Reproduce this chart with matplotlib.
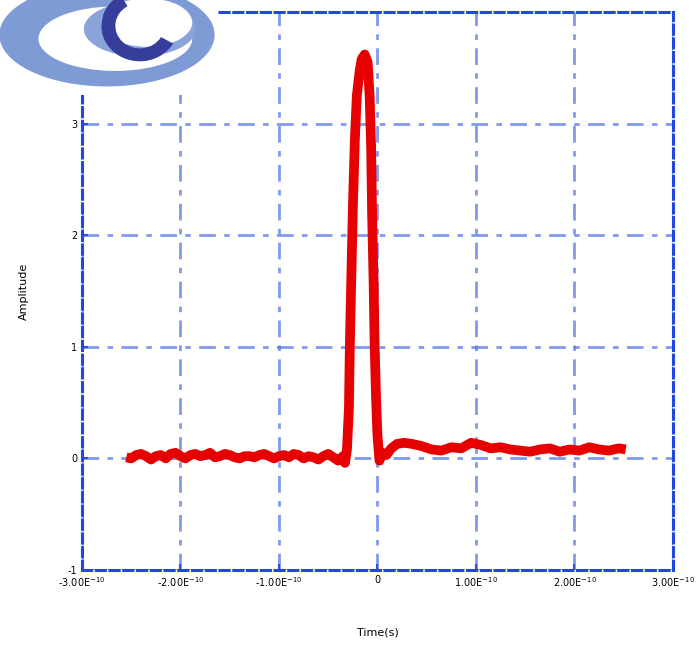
import matplotlib
matplotlib.use('Agg')
import matplotlib.pyplot as plt
from matplotlib.patches import Ellipse, Rectangle, Wedge

# time axis in units of 1e-10 s, amplitude in a.u.
base_x = [-2.55, -2.50, -2.45, -2.40, -2.35, -2.30, -2.25, -2.20, -2.15, -2.10,
          -2.05, -2.00, -1.95, -1.90, -1.85, -1.80, -1.75, -1.70, -1.65, -1.60,
          -1.55, -1.50, -1.45, -1.40, -1.35, -1.30, -1.25, -1.20, -1.15, -1.10,
          -1.05, -1.00, -0.95, -0.90, -0.85, -0.80, -0.75, -0.70, -0.65, -0.60,
          -0.55, -0.50, -0.45, -0.40]
base_y = [0.01, 0.00, 0.03, 0.04, 0.02, -0.01, 0.02, 0.03, 0.00, 0.04,
          0.05, 0.02, 0.00, 0.03, 0.04, 0.02, 0.03, 0.05, 0.01, 0.02,
          0.04, 0.03, 0.01, 0.00, 0.02, 0.02, 0.01, 0.03, 0.04, 0.02,
          0.00, 0.02, 0.03, 0.01, 0.04, 0.03, 0.00, 0.02, 0.01, -0.01,
          0.02, 0.04, 0.01, -0.02]

pulse_x = [-0.35, -0.33, -0.31, -0.29, -0.28, -0.265, -0.25, -0.23, -0.21, -0.18,
           -0.16, -0.13, -0.10, -0.08, -0.065, -0.055, -0.04, -0.03, -0.015, 0.00,
           0.02]
pulse_y = [0.02, -0.04, 0.08, 0.45, 1.05, 1.65, 2.25, 2.85, 3.25, 3.48,
           3.58, 3.62, 3.55, 3.25, 2.80, 2.20, 1.60, 1.05, 0.55, 0.20,
           -0.02]

tail_x = [0.05, 0.09, 0.14, 0.20, 0.27, 0.35, 0.45, 0.55, 0.65, 0.75,
          0.85, 0.95, 1.05, 1.15, 1.25, 1.35, 1.45, 1.55, 1.65, 1.75,
          1.85, 1.95, 2.05, 2.15, 2.25, 2.35, 2.45, 2.52]
tail_y = [0.05, 0.03, 0.09, 0.13, 0.14, 0.13, 0.11, 0.08, 0.07, 0.10,
          0.09, 0.14, 0.12, 0.09, 0.10, 0.08, 0.07, 0.06, 0.08, 0.09,
          0.06, 0.08, 0.07, 0.10, 0.08, 0.07, 0.09, 0.08]

x_ticks = [-3, -2, -1, 0, 1, 2, 3]
x_labels = [r'-3.00E$^{-10}$', r'-2.00E$^{-10}$', r'-1.00E$^{-10}$', '0',
            r'1.00E$^{-10}$', r'2.00E$^{-10}$', r'3.00E$^{-10}$']
y_ticks = [-1, 0, 1, 2, 3]

t = base_x + pulse_x + tail_x
amp = base_y + pulse_y + tail_y

fig = plt.figure(figsize=(6.99, 6.45), dpi=100)
ax = fig.add_axes([0.1173, 0.1163, 0.8455, 0.865])

ax.plot(t, amp, color='#e60000', lw=7, solid_joinstyle='round',
        solid_capstyle='butt')

ax.set_xlim(-3, 3)
ax.set_ylim(-1, 4)
ax.set_xticks(x_ticks)
ax.set_xticklabels(x_labels, fontsize=7)
ax.set_yticks(y_ticks)
ax.set_yticklabels([str(v) for v in y_ticks], fontsize=7)
ax.tick_params(direction='in', color='#2b4fe0', length=4, width=1.5)

ax.grid(True, color='#5577e6', lw=2, linestyle=(0, (6, 3, 2, 3)), alpha=0.75)
for s in ax.spines.values():
    s.set_color('#2246e0')
    s.set_linewidth(2.2)
    s.set_linestyle((0, (3, 1.5)))

ax.set_xlabel('Time(s)', fontsize=8, labelpad=28)
ax.set_ylabel('Amplitude', fontsize=8, labelpad=28)

# logo in the top left corner
fig.patches.append(Rectangle((0, 0.853), 0.312, 0.147, transform=fig.transFigure,
                             facecolor='white', edgecolor='none', zorder=5))
fig.patches.append(Ellipse((0.153, 0.946), 0.308, 0.16, transform=fig.transFigure,
                           facecolor='#7f9bd6', edgecolor='none', zorder=6))
fig.patches.append(Ellipse((0.165, 0.94), 0.22, 0.10, transform=fig.transFigure,
                           facecolor='white', edgecolor='none', zorder=7))
fig.patches.append(Ellipse((0.2, 0.955), 0.16, 0.085, transform=fig.transFigure,
                           facecolor='#8aa3da', edgecolor='none', zorder=8))
fig.patches.append(Ellipse((0.21, 0.965), 0.13, 0.075, transform=fig.transFigure,
                           facecolor='white', edgecolor='none', zorder=9))
fig.patches.append(Wedge((0.2, 0.96), 0.055, 120, 330, width=0.02,
                         transform=fig.transFigure, facecolor='#363d9a',
                         edgecolor='none', zorder=10))

fig.savefig('out.png', dpi=100)
